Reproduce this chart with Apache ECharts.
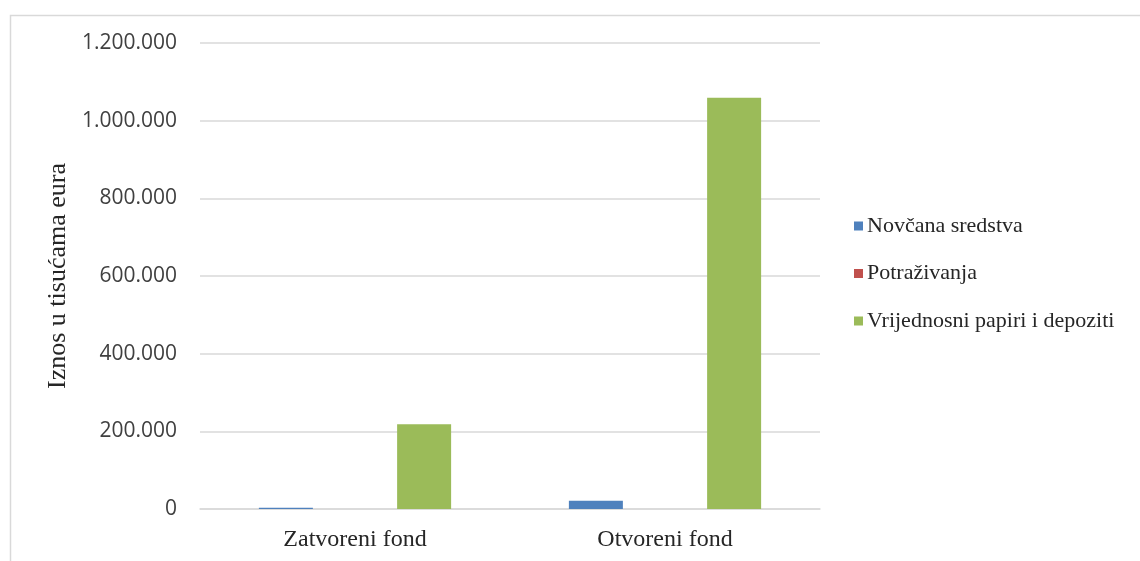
<!DOCTYPE html>
<html>
<head>
<meta charset="utf-8">
<script src="https://cdn.jsdelivr.net/npm/echarts@6/dist/echarts.min.js"></script>
<style>
html,body{margin:0;padding:0;background:#fff;}
#c{width:1140px;height:561px;}
</style>
</head>
<body>
<div id="c"></div>
<script>
var categories = ['Zatvoreni fond', 'Otvoreni fond'];
var seriesNames = ['Novčana sredstva', 'Potraživanja', 'Vrijednosni papiri i depoziti'];
var novcanaSredstva = [3000, 21500];
var potrazivanja = [50, 150];
var vrijednosniPapiri = [218000, 1059000];
var yTicks = [0, 200000, 400000, 600000, 800000, 1000000, 1200000];

var colors = ['#4F81BD', '#C0504D', '#9BBB59'];
var values = [novcanaSredstva, potrazivanja, vrijednosniPapiri];

function fmt(v) {
  return String(v).replace(/\B(?=(\d{3})+(?!\d))/g, '.');
}

var chart = echarts.init(document.getElementById('c'), null, {renderer: 'canvas'});
var option = {
  animation: false,
  backgroundColor: '#ffffff',
  color: colors,
  graphic: [{
    type: 'rect',
    left: 8, top: 13,
    shape: {width: 1200, height: 620},
    style: {fill: 'none', stroke: '#d9d9d9', lineWidth: 1.5},
    silent: true
  }],
  grid: {left: 200, right: 320, top: 43, bottom: 52},
  legend: {
    orient: 'vertical',
    left: 849,
    top: 209,
    itemWidth: 9,
    itemHeight: 9,
    itemGap: 23.5,
    icon: 'rect',
    data: seriesNames,
    textStyle: {fontFamily: 'Liberation Serif', fontSize: 22, color: '#262626', lineHeight: 24, padding: [0, 0, 0, -1]}
  },
  xAxis: {
    type: 'category',
    data: categories,
    axisLine: {show: true, lineStyle: {color: '#d9d9d9', width: 1.5}},
    axisTick: {show: false},
    axisLabel: {fontFamily: 'Liberation Serif', fontSize: 24, color: '#262626', margin: 19}
  },
  yAxis: {
    type: 'value',
    min: 0,
    max: 1200000,
    interval: 200000,
    name: 'Iznos u tisućama eura',
    nameLocation: 'middle',
    nameGap: 127,
    nameTextStyle: {fontFamily: 'Liberation Serif', fontSize: 26, color: '#262626'},
    axisLine: {show: false},
    axisTick: {show: false},
    splitLine: {lineStyle: {color: '#d9d9d9', width: 1.5}},
    axisLabel: {
      fontFamily: 'Open Sans', fontSize: 21, color: '#404040', margin: 23,
      formatter: function (v) { return yTicks.indexOf(v) >= 0 ? fmt(v) : ''; }
    }
  },
  series: seriesNames.map(function (n, i) {
    return {
      name: n,
      type: 'bar',
      data: values[i],
      barWidth: 54,
      barGap: '28%',
      itemStyle: {color: colors[i]}
    };
  })
};
chart.setOption(option);
</script>
</body>
</html>
